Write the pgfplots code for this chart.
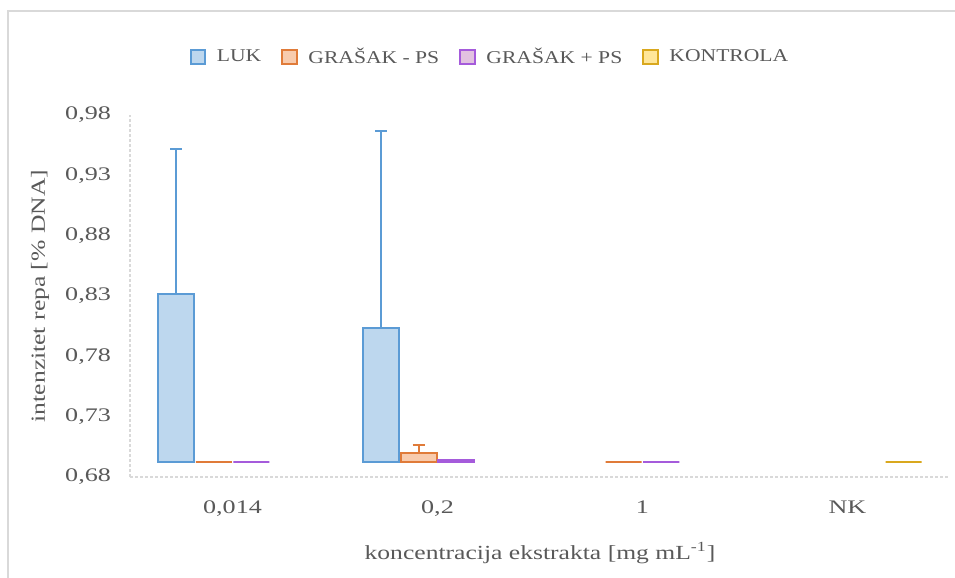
\documentclass[border=0pt]{standalone}
\usepackage{fontspec}
\setmainfont{Liberation Serif}[FakeStretch=1.3]
\newfontfamily\tickfont{Liberation Serif}[FakeStretch=1.36]
\newfontfamily\labfont{Liberation Serif}[FakeStretch=1.28]
\newfontfamily\legfont{Liberation Serif}[FakeStretch=1.2]
\usepackage{pgfplots}
\pgfplotsset{compat=1.18}
\definecolor{txt}{HTML}{595959}
\definecolor{grid}{HTML}{D9D9D9}
\definecolor{lukF}{HTML}{BDD7EE}\definecolor{lukE}{HTML}{5B9BD5}
\definecolor{psmF}{HTML}{F8CBAD}\definecolor{psmE}{HTML}{E07B39}
\definecolor{pspF}{HTML}{E2C2E0}\definecolor{pspE}{HTML}{A55BDB}
\definecolor{konF}{HTML}{FFE699}\definecolor{konE}{HTML}{D9A81E}
\begin{document}
\begin{tikzpicture}
\useasboundingbox (0,0) rectangle (477.5pt,-289pt);
\draw[grid,line width=1pt] (4pt,-289pt) -- (4pt,-5.5pt) -- (477.5pt,-5.5pt);
\begin{axis}[
  at={(65pt,-238.5pt)}, anchor=south west,
  scale only axis, width=410pt, height=181pt,
  ybar=0.75pt, bar width=18pt,
  xmin=-0.5, xmax=3.5,
  y coord trafo/.code={\pgfmathparse{#1-0.6922}},
  ymin=0.68, ymax=0.98,
  ytick={0.68,0.73,0.78,0.83,0.88,0.93,0.98},
  yticklabels={{0,68},{0,73},{0,78},{0,83},{0,88},{0,93},{0,98}},
  xtick={0,1,2,3},
  xticklabels={{0,014},{0,2},1,NK},
  major tick length=0pt,
  axis line style={draw=none},
  axis x line*=bottom, axis y line*=left,
  ticklabel style={text=txt, font=\tickfont\fontsize{9.6}{11}\selectfont},
  yticklabel style={xshift=-6pt},
  xticklabel style={yshift=-8.5pt},
  /pgf/number format/assume math mode=true,
  xlabel={koncentracija ekstrakta [mg mL\textsuperscript{-1}]},
  ylabel={intenzitet repa [\% DNA]},
  label style={text=txt, font=\labfont\fontsize{10}{12}\selectfont},
  xlabel style={at={(axis description cs:0.5,-0.21)}, anchor=center},
  ylabel style={at={(axis description cs:-0.1098,0.5)}, anchor=center},
  legend columns=4,
  legend style={at={(axis description cs:0.4402,1.1602)}, anchor=center, draw=none,
    font=\legfont\fontsize{9}{11}\selectfont, text=txt,
    /tikz/every even column/.append style={column sep=8pt}},
  legend image code/.code={\draw[#1,line width=1pt] (0pt,-3.7pt) rectangle (7.4pt,3.7pt);
    \path (10.6pt,0pt);},
  clip=false,
]
\draw[grid, line width=0.8pt, dash pattern=on 1.5pt off 1pt] (axis cs:-0.5,0.68) -- (axis cs:3.5,0.68);
\draw[grid, line width=0.8pt, dash pattern=on 1.5pt off 1pt] (axis cs:-0.5,0.68) -- (axis cs:-0.5,0.98);

\addplot[fill=lukF, draw=lukE, line width=1pt,
  error bars/.cd, y dir=plus, y explicit,
  error bar style={line width=1pt, color=lukE},
  error mark options={rotate=90, mark size=3pt, line width=1pt, color=lukE}]
  coordinates {(0,0.8317) +- (0,0.1205) (1,0.8035) +- (0,0.1635)};
\addlegendentry{LUK}
\addplot[fill=psmF, draw=psmE, line width=1pt,
  error bars/.cd, y dir=plus, y explicit,
  error bar style={line width=1pt, color=psmE},
  error mark options={rotate=90, mark size=3pt, line width=1pt, color=psmE}]
  coordinates {(0,0.6922) +- (0,0) (1,0.7000) +- (0,0.0066) (2,0.6922) +- (0,0)};
\addlegendentry{GRAŠAK - PS}
\addplot[fill=pspF, draw=pspE, line width=1pt]
  coordinates {(0,0.6922) (1,0.6937) (2,0.6922)};
\addlegendentry{GRAŠAK + PS}
\addplot[fill=konF, draw=konE, line width=1pt]
  coordinates {(3,0.6922)};
\addlegendentry{KONTROLA}
\end{axis}
\end{tikzpicture}
\end{document}
